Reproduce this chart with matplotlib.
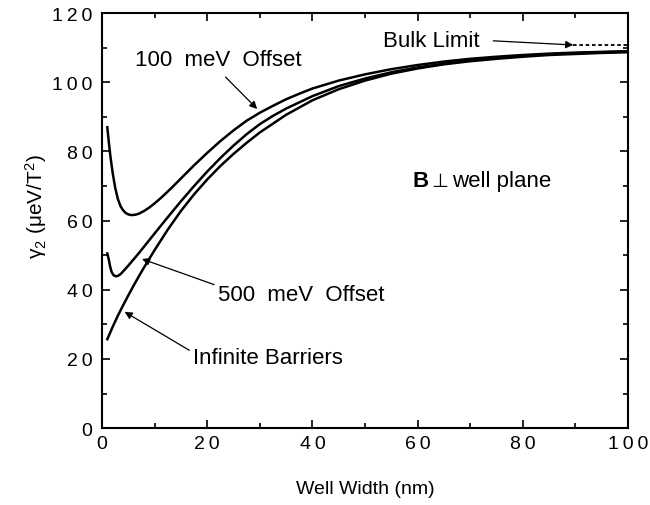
import matplotlib
matplotlib.use("Agg")
import matplotlib.pyplot as plt
from matplotlib.ticker import MultipleLocator, FuncFormatter

plt.rcParams['font.family'] = ['Liberation Sans', 'DejaVu Sans']
plt.rcParams['mathtext.fontset'] = 'custom'
plt.rcParams['mathtext.rm'] = 'Liberation Sans'
plt.rcParams['mathtext.it'] = 'Liberation Sans:italic'
plt.rcParams['mathtext.bf'] = 'Liberation Sans:bold'

# 100 meV offset
x_100 = [1, 1.3, 1.6, 2, 2.5, 3, 3.5, 4, 4.5, 5, 5.6, 6.3, 7, 8, 9, 10, 11, 12, 13.5, 15, 17.5, 20,
         22.5, 25, 27.5, 30, 32.5, 35, 37.5, 40, 45, 50, 55, 60, 65, 70, 75, 80, 85, 90, 95, 100]
y_100 = [87, 82.5, 78.5, 74, 69.5, 66.3, 64.2, 63, 62.2, 61.8, 61.6, 61.7, 62, 62.8, 63.8, 65, 66.3, 67.7, 69.9, 72.2, 76, 79.6,
         83, 86.1, 88.9, 91.2, 93.2, 95.1, 96.7, 98.2, 100.5, 102.3, 103.8, 105, 106, 106.8, 107.4, 107.9, 108.3, 108.6, 108.8, 109]

# 500 meV offset
x_500 = [1, 1.25, 1.5, 1.8, 2.2, 2.6, 3, 3.5, 4, 5, 6, 7, 8, 10, 12.5, 15, 17.5, 20,
         22.5, 25, 27.5, 30, 32.5, 35, 40, 45, 50, 55, 60, 65, 70, 75, 80, 85, 90, 95, 100]
y_500 = [50.5, 49, 47, 45.2, 44.2, 43.9, 44, 44.5, 45.3, 47, 48.8, 50.6, 52.5, 56.3, 61, 65.6, 70, 74.2,
         78.1, 81.7, 85, 87.9, 90.3, 92.4, 96, 98.9, 101.1, 102.9, 104.3, 105.4, 106.3, 107, 107.6, 108.1, 108.4, 108.7, 108.9]

# Infinite barriers
x_inf = [1, 2, 3, 4, 5, 6, 7, 8, 9, 10, 12.5, 15, 17.5, 20, 22.5, 25, 27.5, 30, 35, 40,
         45, 50, 55, 60, 65, 70, 75, 80, 85, 90, 95, 100]
y_inf = [25.7, 29.2, 32.5, 35.5, 38.4, 41.2, 43.9, 46.5, 49, 51.5, 57.4, 62.8, 67.6, 71.9, 75.8, 79.3, 82.5, 85.5, 90.6, 94.8,
         98, 100.5, 102.5, 104, 105.2, 106.1, 106.8, 107.4, 107.9, 108.2, 108.5, 108.7]

# bulk limit
x_bulk = [89.6, 100]
y_bulk = [110.8, 110.8]

fig = plt.figure(figsize=(6.5, 5.06), dpi=100)
ax = fig.add_axes([0.157, 0.152, 0.809, 0.820])

lw = 1.8
ax.plot(x_100, y_100, color='black', lw=lw, solid_joinstyle='round')
ax.plot(x_500, y_500, color='black', lw=lw, solid_joinstyle='round')
ax.plot(x_inf, y_inf, color='black', lw=lw, solid_joinstyle='round')
ax.plot(x_bulk, y_bulk, color='black', lw=1.3, ls=(0, (2, 1.5)))

ax.set_xlim(0, 100)
ax.set_ylim(0, 120)
ax.xaxis.set_major_locator(MultipleLocator(20))
ax.xaxis.set_minor_locator(MultipleLocator(10))
ax.yaxis.set_major_locator(MultipleLocator(20))
ax.yaxis.set_minor_locator(MultipleLocator(10))
spaced = FuncFormatter(lambda v, p: '\u2009'.join(str(int(round(v)))))
ax.xaxis.set_major_formatter(spaced)
ax.yaxis.set_major_formatter(spaced)
ax.tick_params(which='both', direction='in', top=True, right=True, width=1.2, labelsize=14)
ax.tick_params(which='major', length=6)
ax.tick_params(which='minor', length=3.5)
ax.tick_params(axis='x', pad=5)
ax.tick_params(axis='y', pad=7)
for s in ax.spines.values():
    s.set_linewidth(1.5)

ax.set_xlabel('Well Width (nm)', fontsize=14, labelpad=20)
ax.set_ylabel('\u03b3$_2$ (\u03bceV/T$^2$)', fontsize=15, labelpad=8)
ax.yaxis.set_label_coords(-0.10, 0.535)

arrowprops = dict(arrowstyle='-|>', color='black', lw=0.9, mutation_scale=11, shrinkA=0, shrinkB=0)
fs = 16
ax.text(6.3, 106.7, '100  meV  Offset', fontsize=fs, ha='left', va='center')
ax.annotate('', xy=(29.5, 92.3), xytext=(23.5, 101.5), arrowprops=arrowprops)

ax.text(22, 38.5, '500  meV  Offset', fontsize=fs, ha='left', va='center')
ax.annotate('', xy=(7.6, 48.9), xytext=(21.3, 41.5), arrowprops=arrowprops)

ax.text(17.3, 20.5, 'Infinite Barriers', fontsize=fs, ha='left', va='center')
ax.annotate('', xy=(4.3, 33.6), xytext=(16.6, 22.5), arrowprops=arrowprops)

ax.text(53.4, 112, 'Bulk Limit', fontsize=fs, ha='left', va='center')
ax.annotate('', xy=(89.6, 110.8), xytext=(74.4, 112), arrowprops=arrowprops)

ax.text(59.1, 71.7, 'B', fontsize=fs, fontweight='bold', ha='left', va='center')
ax.text(62.6, 71.7, '\u22a5', fontsize=fs - 2, ha='left', va='center', family=['DejaVu Sans'])
ax.text(66.6, 71.7, 'well plane', fontsize=fs, ha='left', va='center')

fig.savefig('out.png', dpi=100)
